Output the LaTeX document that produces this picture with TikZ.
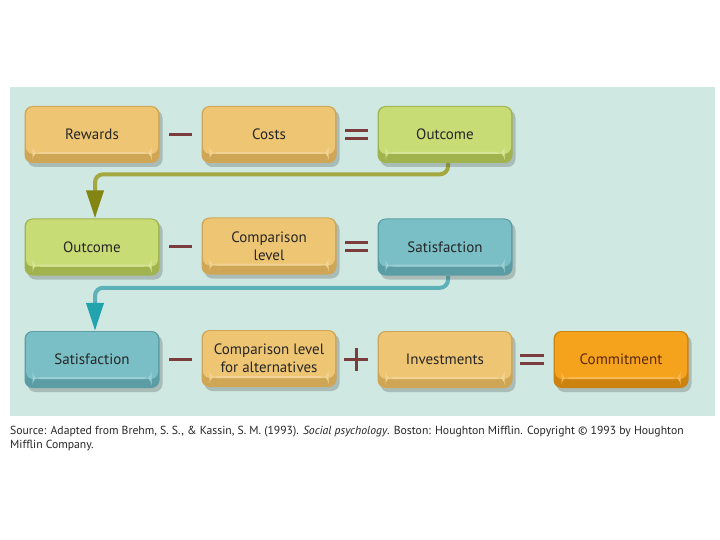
\documentclass[tikz,border=0pt]{standalone}
\usepackage{fontspec}
\setmainfont{PT Sans}
\newfontfamily\capfont{PT Sans}
\usetikzlibrary{arrows.meta,shadows}
\pgfdeclarelayer{panel}
\pgfdeclarelayer{conn}
\pgfsetlayers{panel,conn,main}
\definecolor{panelc}{HTML}{CFE8E1}
\definecolor{beigeF}{HTML}{EEC572}
\definecolor{beigeB}{HTML}{CFA656}
\definecolor{greenF}{HTML}{C8DC76}
\definecolor{greenB}{HTML}{A0B34E}
\definecolor{tealF}{HTML}{7ABFC6}
\definecolor{tealB}{HTML}{5C9DA5}
\definecolor{orangeF}{HTML}{F5A21C}
\definecolor{orangeB}{HTML}{CC820F}
\definecolor{signc}{HTML}{7A3C3C}
\definecolor{txtc}{HTML}{262626}
\definecolor{commtxt}{HTML}{5A2A12}
\definecolor{oliveL}{HTML}{A3A83F}
\definecolor{oliveT}{HTML}{848412}
\definecolor{tealL}{HTML}{5EB1B9}
\definecolor{tealT}{HTML}{22A3AE}
\tikzset{
  box/.style 2 args={rectangle, rounded corners=8pt, minimum width=135pt,
    minimum height=57pt, inner sep=2pt, align=center, text=txtc,
    font=\fontsize{15}{18}\selectfont, fill=#2,
    drop shadow={shadow xshift=3pt, shadow yshift=-4pt, opacity=.28, fill=black!70},
    path picture={
      \fill[#1, rounded corners=7pt]
        ([shift={(1.5pt,-1pt)}]path picture bounding box.north west)
        rectangle ([shift={(-1.5pt,9pt)}]path picture bounding box.south east);
      \fill[#1!75!white]
        ([shift={(8pt,9pt)}]path picture bounding box.south west)
        rectangle ([shift={(-8pt,11pt)}]path picture bounding box.south east);
    }},
  beige/.style={box={beigeF}{beigeB}},
  greenbox/.style={box={greenF}{greenB}},
  tealbox/.style={box={tealF}{tealB}},
  orangebox/.style={box={orangeF}{orangeB}, text=commtxt},
  sign/.style={line width=3pt, signc},
  conn/.style={line width=4pt, rounded corners=8pt},
  captxt/.style={anchor=base west, inner sep=0, text=black!85, font=\capfont\fontsize{11.7}{14}\selectfont},
}
\begin{document}
\begin{tikzpicture}[x=1pt,y=-1pt]
\useasboundingbox (0,0) rectangle (720,540);
\begin{pgfonlayer}{panel}
\fill[white] (0,0) rectangle (720,540);
\fill[panelc] (10,87) rectangle (715,416);
\end{pgfonlayer}

% row 1
\node[beige] (rew) at (92,134.5) {Rewards};
\node[beige] (cost) at (269,134.5) {Costs};
\node[greenbox] (out1) at (445,134.5) {Outcome};
% row 2
\node[greenbox] (out2) at (92,247) {Outcome};
\node[beige] (cl) at (269,246) {Comparison\\level};
\node[tealbox] (sat1) at (445,247) {Satisfaction};
% row 3
\node[tealbox] (sat2) at (92,359.5) {Satisfaction};
\node[beige] (cla) at (269,358.5) {Comparison level\\for alternatives};
\node[beige] (inv) at (445,359.5) {Investments};
\node[orangebox] (com) at (621,359.5) {Commitment};

% signs
\draw[sign] (169,134.5) -- (192,134.5);
\draw[sign] (345,130.5) -- (368,130.5) (345,138.5) -- (368,138.5);
\draw[sign] (169,246.5) -- (192,246.5);
\draw[sign] (345,242.5) -- (368,242.5) (345,250.5) -- (368,250.5);
\draw[sign] (169,359) -- (192,359);
\draw[sign] (344,359) -- (368,359) (356,347.5) -- (356,370.5);
\draw[sign] (520,355) -- (544,355) (520,363) -- (544,363);

% connectors
\begin{pgfonlayer}{conn}
\draw[conn, oliveL, -{Triangle[width=17pt,length=28pt,color=oliveT]}]
  ([xshift=3pt]out1.south) |- ([xshift=3pt,yshift=44pt]out2.north) -- ([xshift=3pt]out2.north);
\draw[conn, tealL, -{Triangle[width=17pt,length=28pt,color=tealT]}]
  ([xshift=3pt]sat1.south) |- ([xshift=3pt,yshift=43pt]sat2.north) -- ([xshift=3pt]sat2.north);
\end{pgfonlayer}

% caption
\node[captxt] (src1) at (10,434)
  {Source: Adapted from Brehm, S. S., \& Kassin, S. M. (1993). \emph{Social psychology}. Boston: Houghton Mifflin. Copyright © 1993 by Houghton};
\node[captxt] (src2) at (10,448) {Mifflin Company.};
\end{tikzpicture}
\end{document}
